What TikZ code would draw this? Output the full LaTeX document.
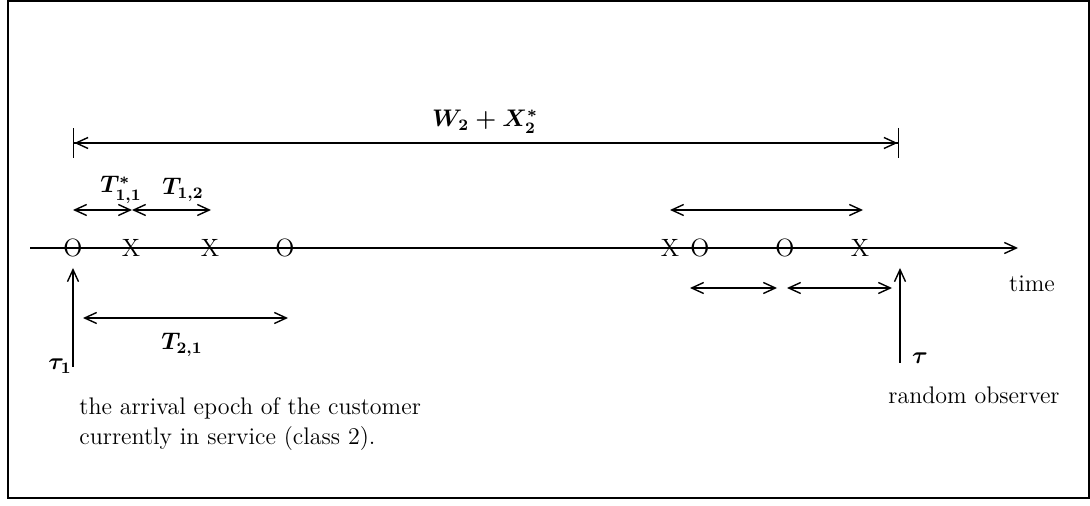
\documentclass[tikz,border=0pt]{standalone}
\usepackage{amsmath,amssymb}
\usetikzlibrary{arrows.meta}

\begin{document}
\begin{tikzpicture}[x=0.5pt, y=-0.5pt, every node/.style={font=\fontsize{12}{15}\selectfont}, line width=0.7pt,
	>={Straight Barb[length=6pt,width=5.5pt]},
	event/.style={inner sep=0pt, font=\fontsize{12.5}{15}\selectfont},
	lbl/.style={font=\boldmath\fontsize{12}{15}\selectfont, inner sep=1pt},
	span/.style={arrows={Bar[width=15pt] Straight Barb[length=6pt,width=5.5pt]-Straight Barb[length=6pt,width=5.5pt] Bar[width=15pt]}}]
	\useasboundingbox (0,0) rectangle (1090,506);
	\draw (8,1) rectangle (1089,498);
	% the time axis with its events
	\foreach \x/\m/\name in {73/O/o1, 131/X/x1, 210/X/x2, 285/O/o2, 670/X/x3, 700/O/o3, 785/O/o4, 860/X/x4} {
		\node[event] (\name) at (\x,248) {\m};
	}
	\coordinate (tstart) at (30,248);
	\coordinate (tend) at (1018,248);
	\draw[->] (tstart) -- (tend);
	\node (time) at (1032,284) {time};
	% W_2 + X_2^*
	\coordinate (wl) at (73,143);
	\coordinate (wr) at (899,143);
	\draw[span] (wl) -- (wr);
	\node[lbl] (wlab) at (485,122) {$W_2 + X_2^*$};
	% T_{1,1}^* and T_{1,2}
	\coordinate (a1) at (73,210);
	\coordinate (a2) at (132,210);
	\coordinate (a3) at (211,210);
	\draw[<->] (a1) -- (a2);
	\draw[<->] (a2) -- (a3);
	\node[lbl] (t11) at (121,190) {$T_{1,1}^*$};
	\node[lbl] (t12) at (183,190) {$T_{1,2}$};
	% T_{2,1}
	\coordinate (b1) at (83,318);
	\coordinate (b2) at (288,318);
	\draw[<->] (b1) -- (b2);
	\node[lbl] (t21) at (182,345) {$T_{2,1}$};
	% tau_1
	\coordinate (tau1b) at (73,367);
	\coordinate (tau1t) at (73,268);
	\draw[->] (tau1b) -- (tau1t);
	\node[lbl] (tau1) at (60,366) {$\tau_1$};
	\node[anchor=base west, align=left] (note) at (72,445) {the arrival epoch of the customer\\currently in service (class 2).};
	% right part
	\coordinate (c1) at (670,210);
	\coordinate (c2) at (863,210);
	\draw[<->] (c1) -- (c2);
	\coordinate (d1) at (690,288);
	\coordinate (d2) at (777,288);
	\coordinate (d3) at (787,288);
	\coordinate (d4) at (892,288);
	\draw[<->] (d1) -- (d2);
	\draw[<->] (d3) -- (d4);
	\coordinate (taub) at (900,363);
	\coordinate (taut) at (900,268);
	\draw[->] (taub) -- (taut);
	\node[lbl] (tau) at (920,358) {$\tau$};
	\node[anchor=base] (obs) at (974,404) {random observer};
\end{tikzpicture}
\end{document}
